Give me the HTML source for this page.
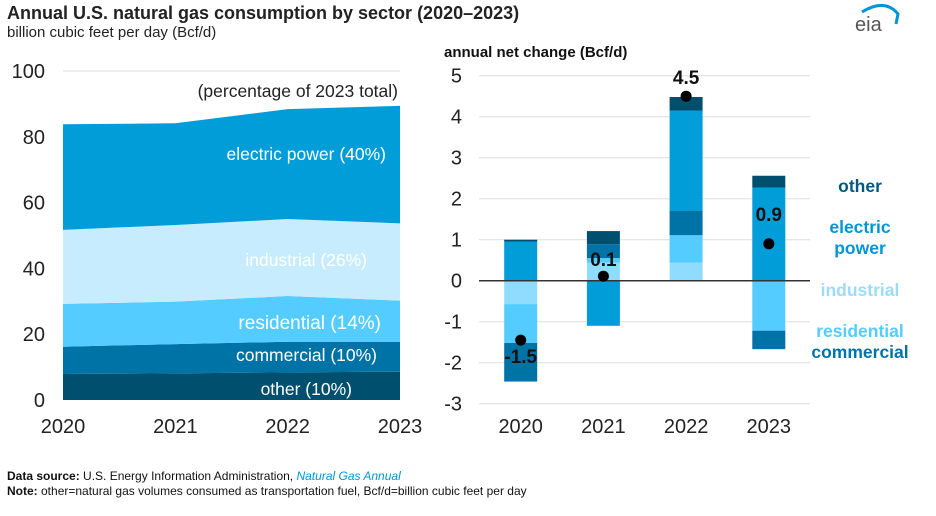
<!DOCTYPE html>
<html><head><meta charset="utf-8"><style>
body{margin:0;background:#fff;width:936px;height:516px;overflow:hidden;font-family:"Liberation Sans",sans-serif}
svg{position:absolute;left:0;top:0}
</style></head><body>
<svg id="c" width="936" height="516" xmlns="http://www.w3.org/2000/svg">
<text x="7" y="19" font-size="18" font-weight="bold" fill="#222">Annual U.S. natural gas consumption by sector (2020–2023)</text>
<text x="7" y="37" font-size="15" fill="#222">billion cubic feet per day (Bcf/d)</text>
<g><path d="M862 12 Q885 -2 898 14 L896 24" stroke="#0096d6" stroke-width="3" fill="none"/><text x="855" y="31" font-size="20" fill="#555">eia</text></g>
<text x="444" y="57" font-size="15" font-weight="bold" fill="#111">annual net change (Bcf/d)</text>
<g id="left"></g><g id="right"></g>
<text x="7" y="480" font-size="12" fill="#111"><tspan font-weight="bold">Data source:</tspan> U.S. Energy Information Administration, <tspan fill="#0096d6" font-style="italic">Natural Gas Annual</tspan></text>
<text x="7" y="495" font-size="12" fill="#111"><tspan font-weight="bold">Note:</tspan> other=natural gas volumes consumed as transportation fuel, Bcf/d=billion cubic feet per day</text>
</svg>
<script>
const years=["2020","2021","2022","2023"];
const areaOther=[7.9,8.1,8.4,8.6];
const areaCommercial=[8.3,8.9,9.3,9.1];
const areaResidential=[13.0,12.9,13.9,12.5];
const areaIndustrial=[22.5,23.3,23.4,23.5];
const areaElectric=[32.1,30.9,33.4,35.7];
const leftTicks=[0,20,40,60,80,100];
const chgIndustrial=[-0.57,0.44,0.44,0];
const chgResidential=[-0.95,0.11,0.67,-1.22];
const chgCommercial=[-0.94,0.34,0.60,-0.45];
const chgElectric=[0.95,-1.1,2.44,2.27];
const chgOther=[0.05,0.32,0.33,0.29];
const netChange=[-1.45,0.11,4.5,0.9];
const netLabels=["-1.5","0.1","4.5","0.9"];
const rightTicks=[-3,-2,-1,0,1,2,3,4,5];
const NS="http://www.w3.org/2000/svg";
function mk(p,t,a){const e=document.createElementNS(NS,t);for(const k in a)e.setAttribute(k,a[k]);p.appendChild(e);return e;}
const L=document.getElementById('left');
const lx=i=>63+i*(337/3), ly=v=>400-v*3.29;
leftTicks.forEach(t=>{
 if(t>0){const g=mk(L,'line',{x1:63,x2:400,y1:ly(t),y2:ly(t),stroke:'#ddd','stroke-width':1});
 
 }
 const tx=mk(L,'text',{x:45,y:ly(t)+7,'font-size':20,'text-anchor':'end',fill:'#222'});tx.textContent=t;
 
 
});
const layers=[[areaOther,'#004f6e','area-other'],[areaCommercial,'#0073a6','area-commercial'],[areaResidential,'#55ccff','area-residential'],[areaIndustrial,'#c7ecfd','area-industrial'],[areaElectric,'#009dd9','area-electric-power']];
let base=[0,0,0,0];
layers.forEach(([vals,col,name])=>{
 const top=base.map((b,i)=>b+vals[i]);
 let d='M'+top.map((v,i)=>lx(i)+','+ly(v)).join('L');
 for(let i=3;i>=0;i--)d+='L'+lx(i)+','+ly(base[i]);
 const p=mk(L,'path',{d:d+'Z',fill:col});
 
 
 base=top;
});
[["(percentage of 2023 total)",398,97,'#222',17.5],["electric power (40%)",386,160,'#fff',17.5],["industrial (26%)",367,266,'#fff',17.5],["residential (14%)",381,329,'#fff',19],["commercial (10%)",377,361,'#fff',17.5],["other (10%)",352,395,'#fff',17.5]].forEach(([t,x,y,c,s])=>{
 const e=mk(L,'text',{x:x,y:y,'font-size':s,'text-anchor':'end',fill:c});e.textContent=t;
 
 
});
years.forEach((y,i)=>{const e=mk(L,'text',{x:lx(i),y:433,'font-size':20,'text-anchor':'middle',fill:'#222'});e.textContent=y;
 
 });
const R=document.getElementById('right');
const rx=i=>520.7+i*82.7, ry=v=>280.7-v*41;
rightTicks.forEach(t=>{
 const g=mk(R,'line',{x1:479,x2:810,y1:ry(t),y2:ry(t),stroke:'#ddd','stroke-width':1});
 
 
 const tx=mk(R,'text',{x:462,y:ry(t)+7,'font-size':20,'text-anchor':'end',fill:'#222'});tx.textContent=t;
 
 
});
const series=[[chgIndustrial,'#8fdcff','bar-industrial'],[chgResidential,'#55ccff','bar-residential'],[chgCommercial,'#0073a6','bar-commercial'],[chgElectric,'#009dd9','bar-electric-power'],[chgOther,'#004f6e','bar-other']];
years.forEach((y,i)=>{
 let pos=0,neg=0;
 series.forEach(([vals,col,name])=>{
  const v=vals[i];if(!v)return;
  let a,b;if(v>0){a=pos;b=pos+v;pos=b;}else{a=neg;b=neg+v;neg=b;}
  const r=mk(R,'rect',{x:rx(i)-16.5,y:ry(Math.max(a,b)),width:33,height:Math.abs(ry(a)-ry(b)),fill:col});
  
  
 });
 const e=mk(R,'text',{x:rx(i),y:433,'font-size':20,'text-anchor':'middle',fill:'#222'});e.textContent=y;
 
 
});
const z=mk(R,'line',{x1:479,x2:810,y1:ry(0),y2:ry(0),stroke:'#333','stroke-width':1.5});


const lblOff=[23,-10,-12,-23];
netChange.forEach((v,i)=>{
 const c=mk(R,'circle',{cx:rx(i),cy:ry(v),r:5.5,fill:'#000'});
 
 
 const t=mk(R,'text',{x:rx(i),y:ry(v)+lblOff[i],'font-size':19,'font-weight':'bold','text-anchor':'middle',fill:'#111'});t.textContent=netLabels[i];
 
 
});
[["other",186,'#005a80'],["electric",227,'#0096d6'],["power",248,'#0096d6'],["industrial",290,'#9cdcfa'],["residential",331,'#55ccff'],["commercial",352,'#0073a6']].forEach(([t,y,c])=>{
 const e=mk(R,'text',{x:860,y:y+6,'font-size':17.5,'font-weight':'bold','text-anchor':'middle',fill:c});e.textContent=t;
 
 
});
</script>
</body></html>
